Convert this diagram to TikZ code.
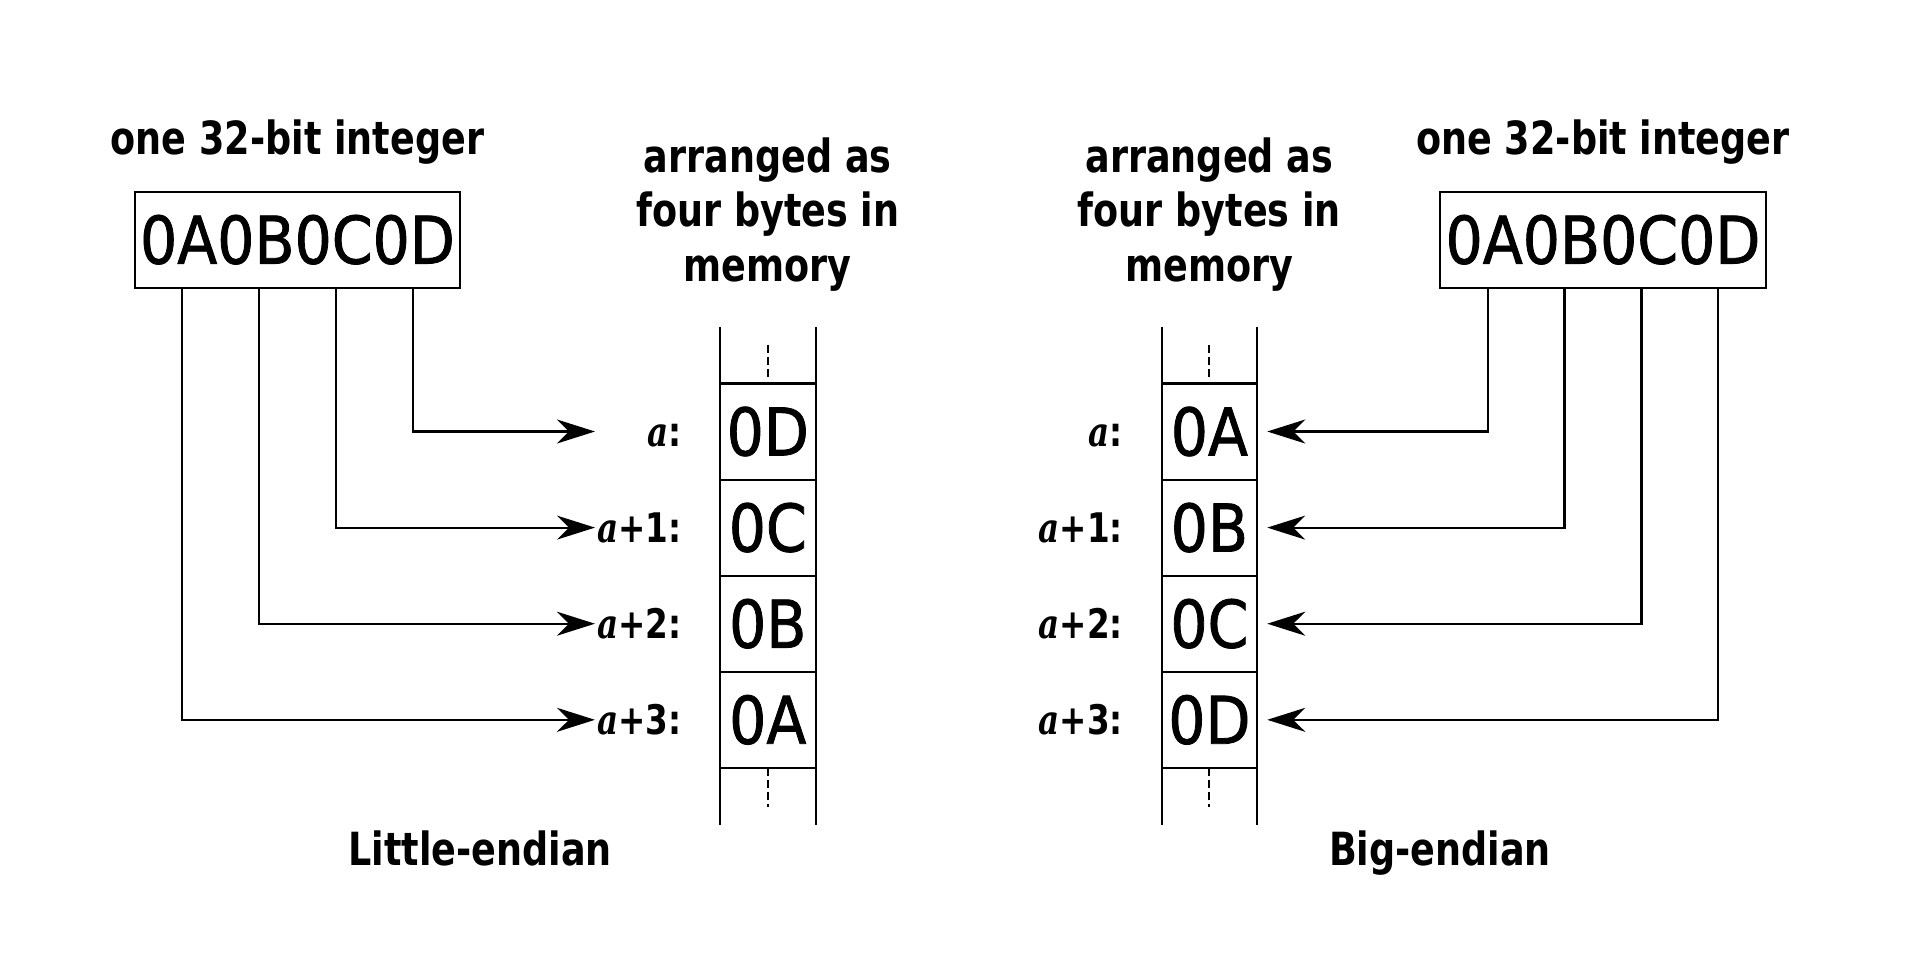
\documentclass[tikz,border=0pt]{standalone}
\usepackage{fontspec}
\setmainfont{DejaVu Sans}
\newfontfamily\headfont[FakeStretch=0.8]{DejaVu Sans Bold}
\newfontfamily\bytefont[FakeStretch=0.89, FakeBold=1.2]{DejaVu Sans}
\newfontfamily\addrfont[FakeStretch=0.8]{DejaVu Serif Bold Italic}
\usepackage{tikz}
\usetikzlibrary{arrows.meta,positioning}
\newcommand{\addr}[1]{{\addrfont a}#1:}
\tikzset{bytes/.style = {draw, line width=0.6pt, inner sep=0pt, outer sep=0pt, font=\bytefont\fontsize{18.7}{22}\selectfont}}
\tikzset{word/.style = {bytes, minimum width=3.257cm, minimum height=0.96cm}}
\tikzset{cell/.style = {bytes, minimum width=0.957cm, minimum height=0.961cm}}
\tikzset{heading/.style = {inner sep=0pt, align=center, font=\headfont\fontsize{13}{15.5}\selectfont}}
\tikzset{caption/.style = {heading, anchor=base}}
\tikzset{addrlabel/.style = {inner sep=0pt, anchor=east, text height=3.0mm, text depth=0pt, font=\headfont\fontsize{11.6}{14}\selectfont}}
\tikzset{link/.style = {line width=0.6pt, -{Stealth[length=3.8mm, width=2.4mm, inset=1.2mm]}}}
\tikzset{gap/.style = {line width=0.6pt, dash pattern=on 2.3pt off 1.1pt}}

\begin{document}
\begin{tikzpicture}
\useasboundingbox (0,0) rectangle (19.2,9.6);

% little-endian
\node[heading, anchor=base] (headL) at (2.975,8.057) {one 32-bit integer};
\node[word] (numL) at (2.975,7.203) {0A0B0C0D};
\node[heading, anchor=north] (memL) at (7.678,8.23) {arranged as\\four bytes in\\memory};

\node[cell] (l1) at (7.678,5.285) {0D};
\node[cell, below=0pt of l1] (l2) {0C};
\node[cell, below=0pt of l2] (l3) {0B};
\node[cell, below=0pt of l3] (l4) {0A};
\draw[line width=0.6pt] ([yshift=0.565cm]l1.north west) -- ([yshift=-0.57cm]l4.south west);
\draw[line width=0.6pt] ([yshift=0.565cm]l1.north east) -- ([yshift=-0.57cm]l4.south east);
\draw[gap] ([yshift=0.385cm]l1.north) -- ([yshift=0.065cm]l1.north);
\draw[gap] (l4.south) -- ([yshift=-0.39cm]l4.south);

\node[addrlabel] (al1) at ([xshift=-0.38cm]l1.west) {\addr{}};
\node[addrlabel] (al2) at ([xshift=-0.38cm]l2.west) {\addr{+1}};
\node[addrlabel] (al3) at ([xshift=-0.38cm]l3.west) {\addr{+2}};
\node[addrlabel] (al4) at ([xshift=-0.38cm]l4.west) {\addr{+3}};

\coordinate (inL1) at ([xshift=-1.25cm]l1.west);
\coordinate (inL2) at ([xshift=-1.25cm]l2.west);
\coordinate (inL3) at ([xshift=-1.25cm]l3.west);
\coordinate (inL4) at ([xshift=-1.25cm]l4.west);
\draw[link] ([xshift=1.152cm]numL.south) |- (inL1);
\draw[link] ([xshift=0.385cm]numL.south) |- (inL2);
\draw[link] ([xshift=-0.385cm]numL.south) |- (inL3);
\draw[link] ([xshift=-1.152cm]numL.south) |- (inL4);

\node[caption] (capL) at (4.80,0.95) {Little-endian};

% big-endian
\node[heading, anchor=base] (headR) at (16.03,8.057) {one 32-bit integer};
\node[word] (numR) at (16.03,7.203) {0A0B0C0D};
\node[heading, anchor=north] (memR) at (12.094,8.23) {arranged as\\four bytes in\\memory};

\node[cell] (r1) at (12.094,5.285) {0A};
\node[cell, below=0pt of r1] (r2) {0B};
\node[cell, below=0pt of r2] (r3) {0C};
\node[cell, below=0pt of r3] (r4) {0D};
\draw[line width=0.6pt] ([yshift=0.565cm]r1.north west) -- ([yshift=-0.57cm]r4.south west);
\draw[line width=0.6pt] ([yshift=0.565cm]r1.north east) -- ([yshift=-0.57cm]r4.south east);
\draw[gap] ([yshift=0.385cm]r1.north) -- ([yshift=0.065cm]r1.north);
\draw[gap] (r4.south) -- ([yshift=-0.39cm]r4.south);

\node[addrlabel] (ar1) at ([xshift=-0.38cm]r1.west) {\addr{}};
\node[addrlabel] (ar2) at ([xshift=-0.38cm]r2.west) {\addr{+1}};
\node[addrlabel] (ar3) at ([xshift=-0.38cm]r3.west) {\addr{+2}};
\node[addrlabel] (ar4) at ([xshift=-0.38cm]r4.west) {\addr{+3}};

\coordinate (inR1) at ([xshift=0.10cm]r1.east);
\coordinate (inR2) at ([xshift=0.10cm]r2.east);
\coordinate (inR3) at ([xshift=0.10cm]r3.east);
\coordinate (inR4) at ([xshift=0.10cm]r4.east);
\draw[link] ([xshift=-1.152cm]numR.south) |- (inR1);
\draw[link] ([xshift=-0.385cm]numR.south) |- (inR2);
\draw[link] ([xshift=0.385cm]numR.south) |- (inR3);
\draw[link] ([xshift=1.152cm]numR.south) |- (inR4);

\node[caption] (capR) at (14.40,0.95) {Big-endian};
\end{tikzpicture}
\end{document}
